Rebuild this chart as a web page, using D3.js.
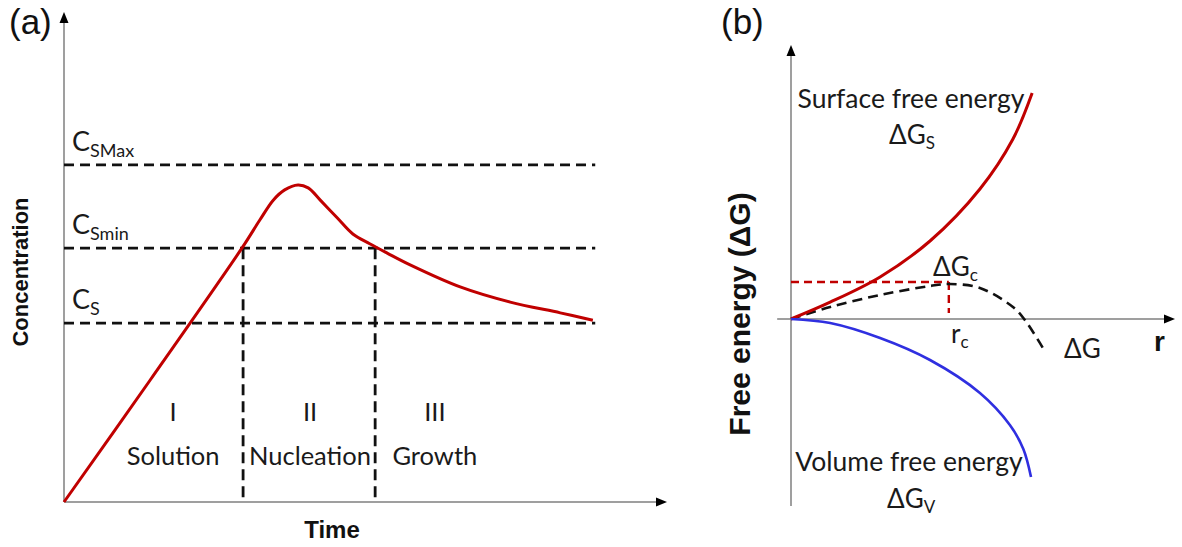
<!DOCTYPE html>
<html>
<head>
<meta charset="utf-8">
<script src="https://cdn.jsdelivr.net/npm/d3@7"></script>
<style>
  html, body { margin: 0; padding: 0; background: #fff; }
  svg { display: block; }
  .lbl { font-family: Lato, "Open Sans", sans-serif; fill: #1a1a1a; }
  .bold { font-family: "Liberation Sans", Arial, sans-serif; font-weight: bold; fill: #111; }
</style>
</head>
<body>
<svg id="chart" width="1182" height="547"></svg>
<script>
// ---------- Panel (a): concentration vs time ----------
const curveTime = [0, 1.43, 2.95, 3.25, 3.47, 3.66, 3.88, 4.05, 4.25, 4.53, 4.79, 5.07, 5.36, 5.74, 6.57, 7.40, 8.23, 8.77];
const curveConc = [0, 2.49, 5.18, 5.76, 6.16, 6.37, 6.47, 6.41, 6.16, 5.80, 5.47, 5.27, 5.08, 4.84, 4.39, 4.08, 3.86, 3.71];
const levelNames = ["SMax", "Smin", "S"];
const levelValues = [6.88, 5.18, 3.65];
const levelEnd = 8.81;
const stageBounds = [2.97, 5.16];
const stageNumerals = ["I", "II", "III"];
const stageNames = ["Solution", "Nucleation", "Growth"];
const stageCenters = [1.81, 4.08, 6.15];

// ---------- Panel (b): free energy vs radius ----------
const surfR = [0, 1.02, 2.32, 3.62, 4.92, 5.78, 6.28];
const surfG = [0, 0.42, 1.05, 1.95, 3.25, 4.50, 5.65];
const volR = [0, 1.02, 2.32, 3.62, 4.92, 5.70, 6.05, 6.25];
const volG = [0, -0.10, -0.475, -1.025, -1.85, -2.65, -3.25, -3.95];
const totR = [0, 1.02, 2.32, 3.62, 4.14, 4.92, 5.78, 6.09, 6.56];
const totG = [0, 0.30, 0.60, 0.825, 0.875, 0.775, 0.30, -0.025, -0.725];
const rCrit = 4.11;
const gCrit = 0.925;

const svg = d3.select("#chart");
const RED = "#c00000", BLUE = "#2f2fe0", AXIS = "#7f7f7f";

// scales
const xA = d3.scaleLinear().domain([0, 10]).range([64, 667]);
const yA = d3.scaleLinear().domain([0, 10]).range([502, 12]);
const xB = d3.scaleLinear().domain([0, 10]).range([791, 1175]);
const yB = d3.scaleLinear().domain([-5, 5]).range([519, 119]);

function arrowUp(g, x, y) {
  g.append("path").attr("d", `M${x},${y} L${x-4.5},${y+11} L${x+4.5},${y+11} Z`).attr("fill", "#000");
}
function arrowRight(g, x, y) {
  g.append("path").attr("d", `M${x},${y} L${x-11},${y-4.5} L${x-11},${y+4.5} Z`).attr("fill", "#000");
}

// ===== Panel (a) =====
const gA = svg.append("g");
gA.append("text").attr("x", 9).attr("y", 34).attr("font-family", "Liberation Sans, Arial, sans-serif")
  .attr("font-size", 35).attr("fill", "#111").text("(a)");

// axes
gA.append("line").attr("x1", xA(0)).attr("x2", xA(0)).attr("y1", yA(0)).attr("y2", yA(10) + 8)
  .attr("stroke", AXIS).attr("stroke-width", 1.5);
arrowUp(gA, xA(0), yA(10));
gA.append("line").attr("x1", xA(0)).attr("x2", xA(10) - 8).attr("y1", yA(0)).attr("y2", yA(0))
  .attr("stroke", AXIS).attr("stroke-width", 1.5);
arrowRight(gA, xA(10), yA(0));

// horizontal level lines
levelValues.forEach((v, i) => {
  gA.append("line").attr("x1", xA(0)).attr("x2", xA(levelEnd)).attr("y1", yA(v)).attr("y2", yA(v))
    .attr("stroke", "#111").attr("stroke-width", 2.7).attr("stroke-dasharray", "10,6");
  const t = gA.append("text").attr("class", "lbl").attr("x", xA(0) + 8).attr("y", yA(v) - 14)
    .attr("font-size", 27);
  t.append("tspan").text("C");
  t.append("tspan").attr("font-size", 18).attr("dy", 6).text(levelNames[i]);
});

// stage boundaries
stageBounds.forEach(b => {
  gA.append("line").attr("x1", xA(b)).attr("x2", xA(b)).attr("y1", yA(levelValues[1])).attr("y2", yA(0))
    .attr("stroke", "#111").attr("stroke-width", 2.8).attr("stroke-dasharray", "11,6");
});

// stage labels
stageNames.forEach((n, i) => {
  gA.append("text").attr("class", "lbl").attr("x", xA(stageCenters[i])).attr("y", 421)
    .attr("text-anchor", "middle").attr("font-size", 25.5).text(stageNumerals[i]);
  gA.append("text").attr("class", "lbl").attr("x", xA(stageCenters[i])).attr("y", 465)
    .attr("text-anchor", "middle").attr("font-size", 25.5).text(n);
});

// concentration curve
const lineA = d3.line().x(d => xA(d[0])).y(d => yA(d[1])).curve(d3.curveCatmullRom.alpha(0.5));
gA.append("path").attr("d", lineA(d3.zip(curveTime, curveConc)))
  .attr("fill", "none").attr("stroke", RED).attr("stroke-width", 3);

// axis titles
gA.append("text").attr("class", "bold").attr("x", 332).attr("y", 538).attr("text-anchor", "middle")
  .attr("font-size", 24).text("Time");
gA.append("text").attr("class", "bold").attr("transform", "translate(28,272) rotate(-90)")
  .attr("text-anchor", "middle").attr("font-size", 22).text("Concentration");

// ===== Panel (b) =====
const gB = svg.append("g");
gB.append("text").attr("x", 721).attr("y", 34).attr("font-family", "Liberation Sans, Arial, sans-serif")
  .attr("font-size", 35).attr("fill", "#111").text("(b)");

const yTop = 6.85, yBot = -4.675;
gB.append("line").attr("x1", xB(0)).attr("x2", xB(0)).attr("y1", yB(yBot)).attr("y2", yB(yTop) + 8)
  .attr("stroke", AXIS).attr("stroke-width", 1.5);
arrowUp(gB, xB(0), yB(yTop));
gB.append("line").attr("x1", xB(-0.36)).attr("x2", xB(10) - 8).attr("y1", yB(0)).attr("y2", yB(0))
  .attr("stroke", AXIS).attr("stroke-width", 1.5);
arrowRight(gB, xB(10), yB(0));

const lineB = d3.line().x(d => xB(d[0])).y(d => yB(d[1])).curve(d3.curveCatmullRom.alpha(0.5));

// critical guide lines
gB.append("path").attr("d", `M${xB(0)},${yB(gCrit)} H${xB(rCrit)}`)
  .attr("stroke", RED).attr("stroke-width", 2.4).attr("stroke-dasharray", "8,5").attr("fill", "none");
gB.append("path").attr("d", `M${xB(rCrit)},${yB(gCrit)} V${yB(0.15)}`)
  .attr("stroke", RED).attr("stroke-width", 2.4).attr("stroke-dasharray", "8,5").attr("fill", "none");

gB.append("path").attr("d", lineB(d3.zip(totR, totG))).attr("fill", "none")
  .attr("stroke", "#111").attr("stroke-width", 2.6).attr("stroke-dasharray", "10,6");
gB.append("path").attr("d", lineB(d3.zip(surfR, surfG))).attr("fill", "none")
  .attr("stroke", RED).attr("stroke-width", 3);
gB.append("path").attr("d", lineB(d3.zip(volR, volG))).attr("fill", "none")
  .attr("stroke", BLUE).attr("stroke-width", 2.6);

// labels
gB.append("text").attr("class", "lbl").attr("x", 911).attr("y", 108).attr("text-anchor", "middle")
  .attr("font-size", 26.5).text("Surface free energy");
let t = gB.append("text").attr("class", "lbl").attr("x", 889).attr("y", 144).attr("font-size", 26);
t.append("tspan").text("ΔG"); t.append("tspan").attr("font-size", 17).attr("dy", 5).text("S");

t = gB.append("text").attr("class", "lbl").attr("x", 933).attr("y", 276).attr("font-size", 26);
t.append("tspan").text("ΔG"); t.append("tspan").attr("font-size", 17).attr("dy", 5).text("c");

t = gB.append("text").attr("class", "lbl").attr("x", 951).attr("y", 343).attr("font-size", 26);
t.append("tspan").text("r"); t.append("tspan").attr("font-size", 17).attr("dy", 5).text("c");

gB.append("text").attr("class", "lbl").attr("x", 1064).attr("y", 358).attr("font-size", 26).text("ΔG");
gB.append("text").attr("class", "bold").attr("x", 1154).attr("y", 351).attr("font-size", 28).text("r");

gB.append("text").attr("class", "lbl").attr("x", 909).attr("y", 471).attr("text-anchor", "middle")
  .attr("font-size", 26.5).text("Volume free energy");
t = gB.append("text").attr("class", "lbl").attr("x", 887).attr("y", 508).attr("font-size", 26);
t.append("tspan").text("ΔG"); t.append("tspan").attr("font-size", 17).attr("dy", 5).text("V");

gB.append("text").attr("class", "bold").attr("transform", "translate(750,314) rotate(-90)")
  .attr("text-anchor", "middle").attr("font-size", 30).text("Free energy (ΔG)");
</script>
</body>
</html>
